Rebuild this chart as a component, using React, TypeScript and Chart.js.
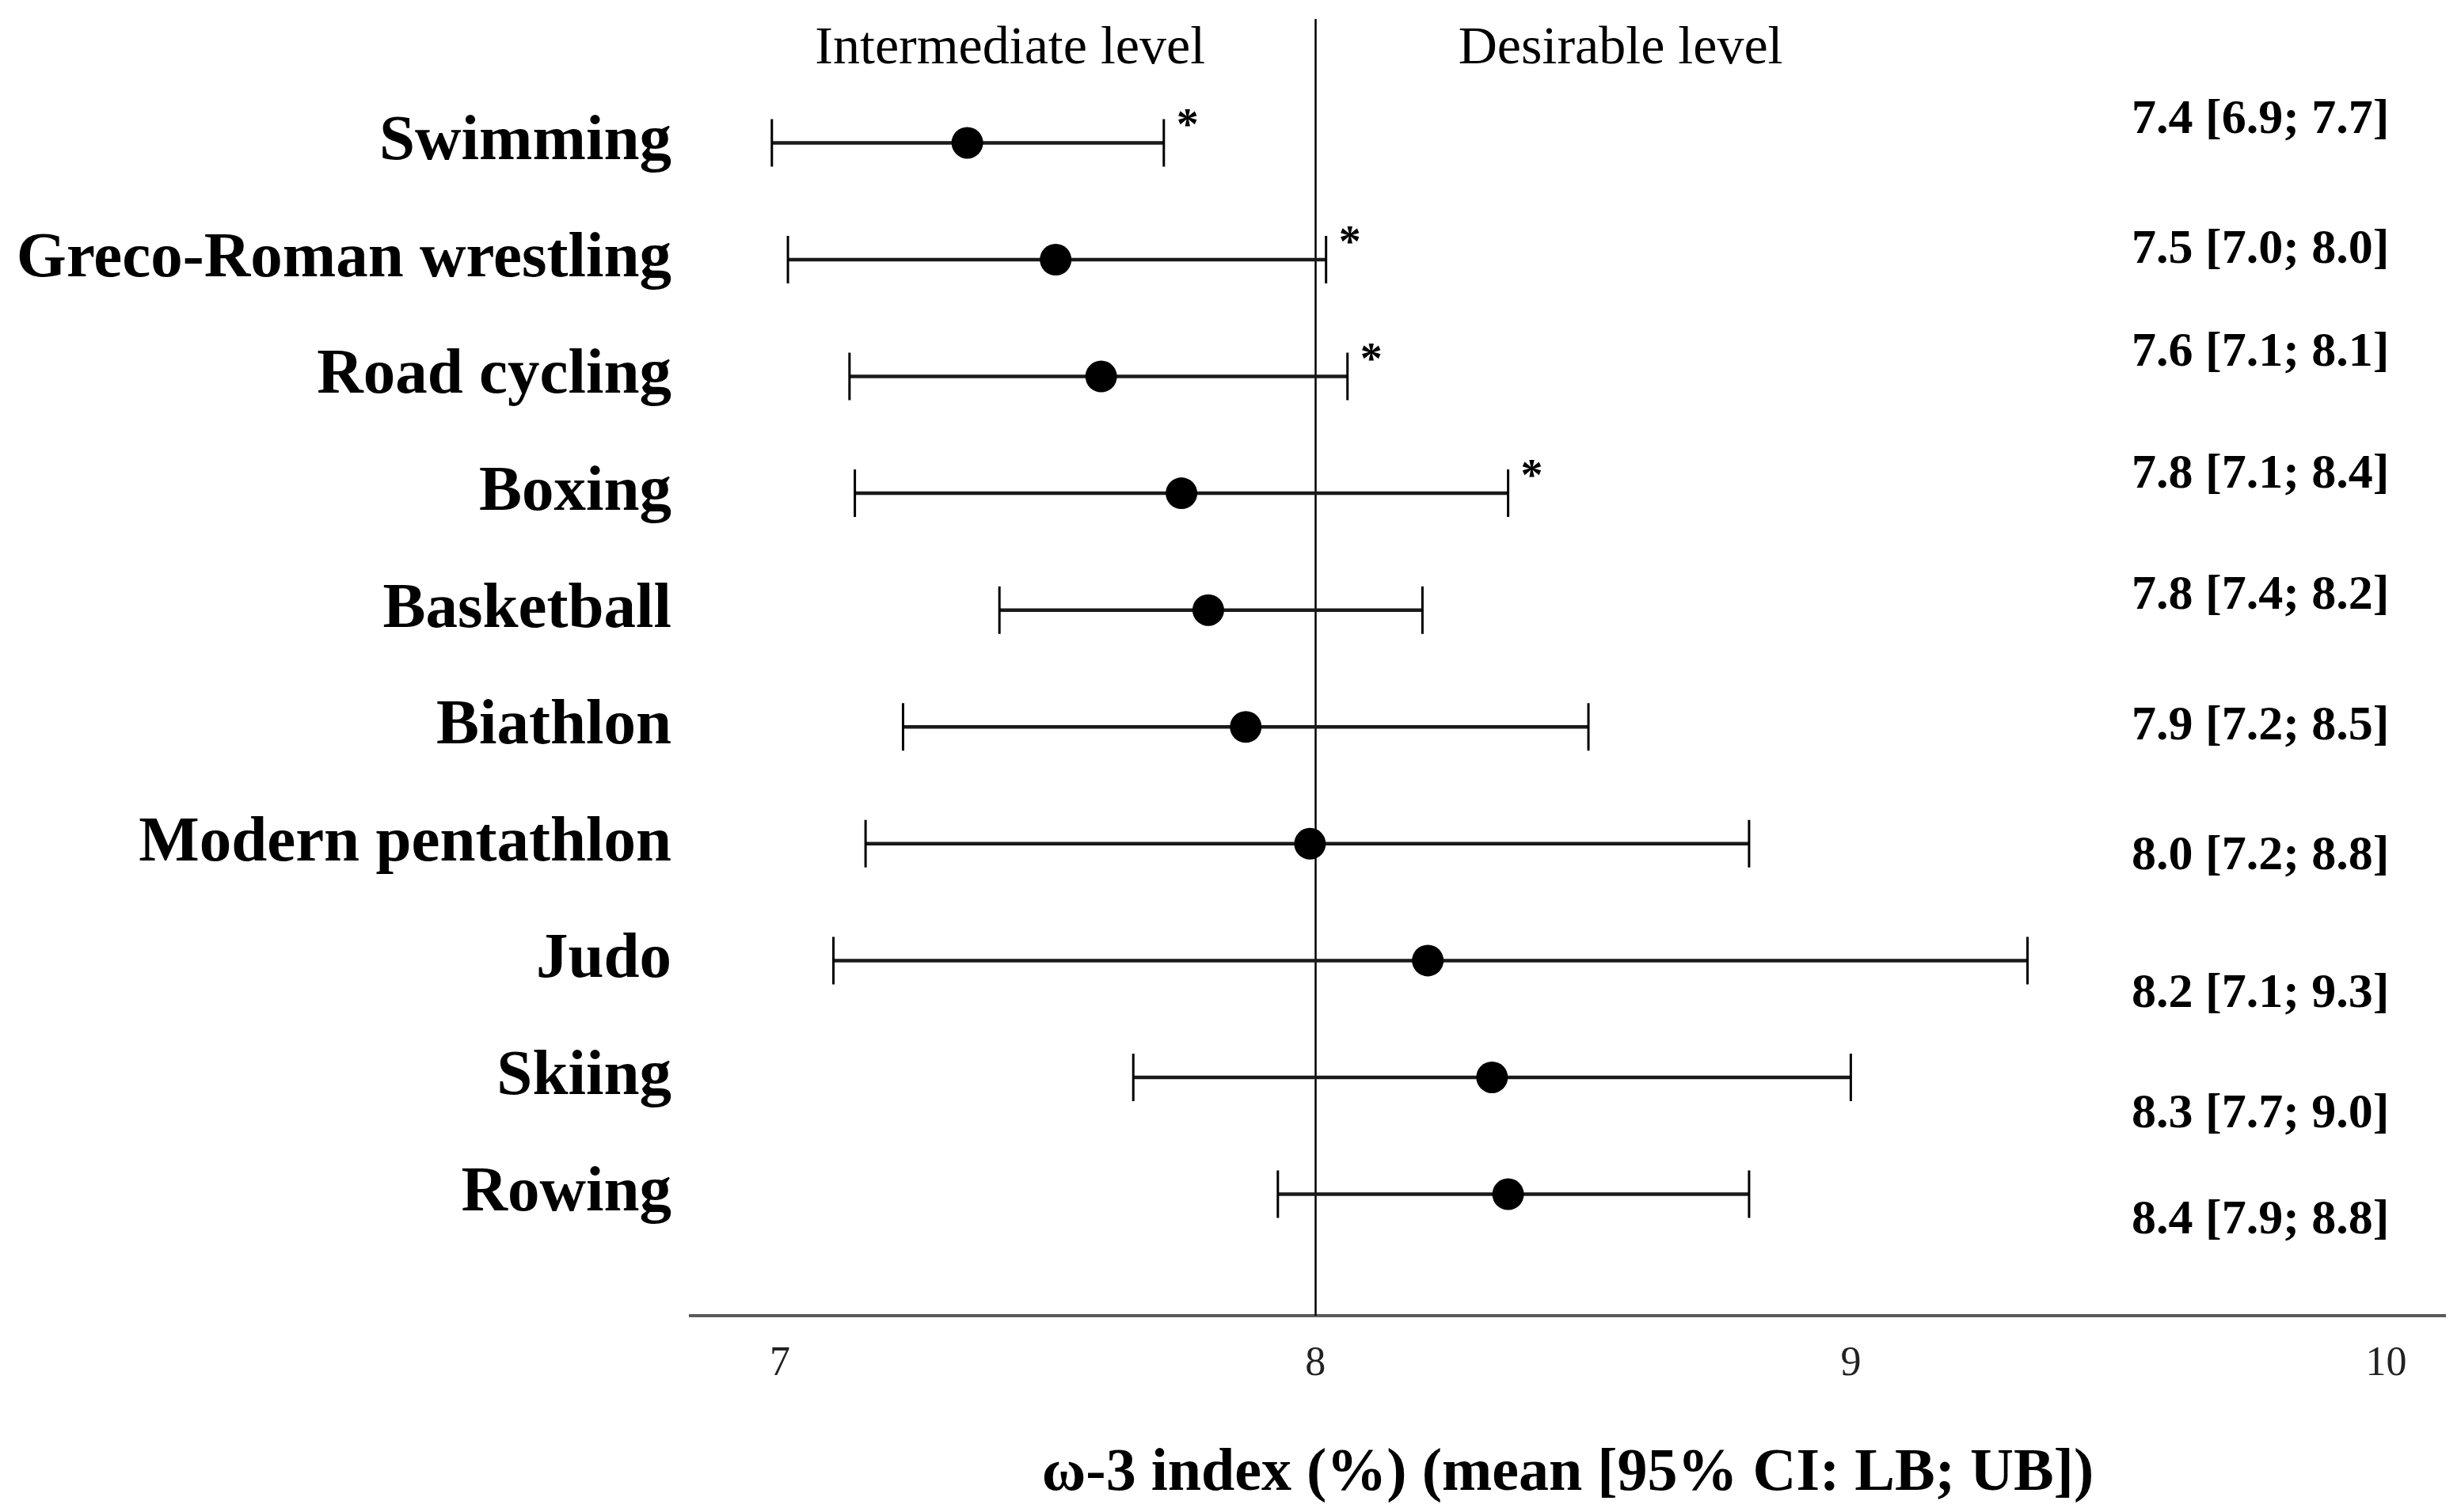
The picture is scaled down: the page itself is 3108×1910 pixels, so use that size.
import React, { useEffect, useRef } from "react";
import { Chart, registerables } from "chart.js";

Chart.register(...registerables);

const categories = [
  "Swimming",
  "Greco-Roman wrestling",
  "Road cycling",
  "Boxing",
  "Basketball",
  "Biathlon",
  "Modern pentathlon",
  "Judo",
  "Skiing",
  "Rowing",
];

// plotted positions
const meanValues = [7.35, 7.515, 7.6, 7.75, 7.8, 7.87, 7.99, 8.21, 8.33, 8.36];
const lowerValues = [6.985, 7.015, 7.13, 7.14, 7.41, 7.23, 7.16, 7.1, 7.66, 7.93];
const upperValues = [7.717, 8.02, 8.06, 8.36, 8.2, 8.51, 8.81, 9.33, 9.0, 8.81];

// reported values (text on the right)
const reportedMean = [7.4, 7.5, 7.6, 7.8, 7.8, 7.9, 8.0, 8.2, 8.3, 8.4];
const reportedLB = [6.9, 7.0, 7.1, 7.1, 7.4, 7.2, 7.2, 7.1, 7.7, 7.9];
const reportedUB = [7.7, 8.0, 8.1, 8.4, 8.2, 8.5, 8.8, 9.3, 9.0, 8.8];

const significant = [true, true, true, true, false, false, false, false, false, false];

const xTicks = [7, 8, 9, 10];
const threshold = 8;
const xTitle = "ω-3 index (%) (mean [95% CI: LB; UB])";
const leftZoneLabel = "Intermediate level";
const rightZoneLabel = "Desirable level";

// layout-only: vertical shift (in rows) of the right-hand value labels
const valueLabelShift = [-0.19, -0.08, -0.2, -0.16, -0.12, 0, 0.11, 0.29, 0.32, 0.23];

const SERIF = "'Liberation Serif', 'DejaVu Serif', serif";

const forestPlugin = {
  id: "forest",
  beforeDatasetsDraw(chart: any) {
    const { ctx, chartArea, scales } = chart;
    const xs = scales.x;
    const ys = scales.y;
    ctx.save();
    // threshold line
    const tx = Math.round(xs.getPixelForValue(threshold)) + 0.5;
    ctx.strokeStyle = "#000";
    ctx.lineWidth = 2.5;
    ctx.beginPath();
    ctx.moveTo(tx, chartArea.top);
    ctx.lineTo(tx, chartArea.bottom);
    ctx.stroke();

    // zone labels
    ctx.fillStyle = "#000";
    ctx.font = `68px ${SERIF}`;
    ctx.textAlign = "center";
    ctx.textBaseline = "middle";
    ctx.fillText(leftZoneLabel, xs.getPixelForValue(7.43), ys.getPixelForValue(-0.8));
    ctx.fillText(rightZoneLabel, xs.getPixelForValue(8.57), ys.getPixelForValue(-0.8));

    // error bars
    categories.forEach((_, i) => {
      const y = ys.getPixelForValue(i);
      const x1 = xs.getPixelForValue(lowerValues[i]);
      const x2 = xs.getPixelForValue(upperValues[i]);
      ctx.strokeStyle = "#1a1a1a";
      ctx.lineWidth = 4.5;
      ctx.beginPath();
      ctx.moveTo(x1, y);
      ctx.lineTo(x2, y);
      ctx.stroke();
      ctx.strokeStyle = "#000";
      ctx.lineWidth = 3;
      ctx.beginPath();
      ctx.moveTo(x1, y - 30);
      ctx.lineTo(x1, y + 30);
      ctx.moveTo(x2, y - 30);
      ctx.lineTo(x2, y + 30);
      ctx.stroke();
      if (significant[i]) {
        ctx.font = `bold 56px ${SERIF}`;
        ctx.textAlign = "left";
        ctx.textBaseline = "alphabetic";
        ctx.fillText("*", x2 + 16, y - 4);
      }
      // value labels
      ctx.font = `bold 62px ${SERIF}`;
      ctx.textAlign = "center";
      ctx.textBaseline = "middle";
      const txt = `${reportedMean[i].toFixed(1)} [${reportedLB[i].toFixed(1)}; ${reportedUB[i].toFixed(1)}]`;
      ctx.fillText(txt, xs.getPixelForValue(9.765), ys.getPixelForValue(i + valueLabelShift[i]));
    });
    ctx.restore();
  },
};

export default function App() {
  const ref = useRef<HTMLCanvasElement | null>(null);
  useEffect(() => {
    document.body.style.margin = "0";
    document.body.style.overflow = "hidden";
    const canvas = ref.current!;
    const chart = new Chart(canvas, {
      type: "scatter",
      data: {
        datasets: [
          {
            data: categories.map((_, i) => ({ x: meanValues[i], y: i })),
            pointRadius: 20,
            pointHoverRadius: 20,
            backgroundColor: "#000",
            borderWidth: 0,
          },
        ],
      },
      options: {
        animation: false,
        responsive: false,
        devicePixelRatio: 1,
        layout: { padding: { top: 24, right: 16, left: 0, bottom: 0 } },
        plugins: { legend: { display: false }, tooltip: { enabled: false } },
        scales: {
          x: {
            type: "linear",
            min: 6.833,
            max: 10.11,
            grid: { display: false, drawTicks: false },
            border: { display: true, color: "#5a5a5a", width: 4 },
            afterBuildTicks: (s: any) => {
              s.ticks = xTicks.map((v) => ({ value: v }));
            },
            afterFit: (s: any) => {
              s.height = 248;
              s.paddingLeft = 0;
              s.paddingRight = 0;
            },
            ticks: {
              color: "#222",
              padding: 30,
              font: { family: SERIF, size: 52 },
              callback: (v: any) => String(v),
            },
            title: {
              display: true,
              text: xTitle,
              color: "#000",
              font: { family: SERIF, size: 76, weight: "bold" },
              padding: { top: 0, bottom: 2 },
            },
          },
          y: {
            type: "linear",
            reverse: true,
            min: -1.06,
            max: 10.04,
            grid: { display: false, drawTicks: false },
            border: { display: false },
            afterBuildTicks: (s: any) => {
              s.ticks = categories.map((_, i) => ({ value: i }));
            },
            afterFit: (s: any) => {
              s.width = 872;
              s.paddingTop = 0;
              s.paddingBottom = 0;
            },
            ticks: {
              color: "#000",
              padding: 24,
              font: { family: SERIF, size: 81, weight: "bold" },
              callback: (v: any) => categories[v as number] ?? "",
            },
          },
        },
      },
      plugins: [forestPlugin],
    });
    return () => chart.destroy();
  }, []);
  return (
    <div style={{ position: "absolute", left: 0, top: 0, width: 3108, height: 1910, background: "#fff" }}>
      <canvas ref={ref} width={3108} height={1910} style={{ width: 3108, height: 1910, display: "block" }} />
    </div>
  );
}
